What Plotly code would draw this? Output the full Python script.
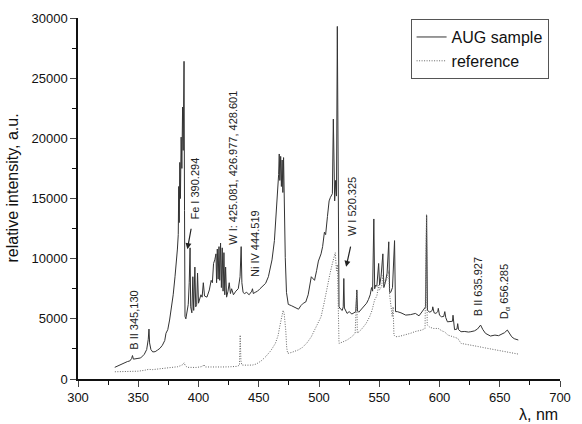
import plotly.graph_objects as go

# ---- data ----
sample_x = [330.5, 334, 338, 341, 343, 344.5, 345.2, 346, 349, 352, 355, 357, 358.3, 358.9, 359.4, 360.5, 362, 364, 366, 368,
            370, 372, 373, 374.5, 376, 377.5, 379, 380.5, 381.5, 382.5, 383.2, 383.6, 384, 384.5, 385, 385.6, 386.2, 386.8, 387.3, 388.0,
            388.4, 388.8, 389.5, 390.2, 390.8, 391.5, 392.3, 393, 393.5, 394.5, 395.3, 396, 397, 397.7, 398.5, 399.2, 400, 401, 402, 403,
            404, 405, 407, 409, 410.5, 411.5, 412.5, 413.5, 414.5, 415, 415.6, 416.3, 417, 417.6, 418.3, 419, 419.7, 420.4, 421.1, 421.8,
            422.5, 423.3, 424.5, 425.5, 426.5, 427.5, 429, 431, 433, 434.5, 435.4, 436, 437, 438, 440, 442, 444.2, 444.8, 445.5, 447,
            449, 451, 453, 455.7, 458, 461, 463, 464.5, 465.5, 466.5, 467, 467.5, 468.2, 468.8, 469.4, 470, 470.6, 471.2, 472, 473,
            474.5, 477, 479, 481, 483, 485, 487, 489, 491, 493.6, 495, 496.3, 498, 499.5, 501.7, 503, 504.5, 505.5, 507, 508.4,
            509.5, 511.1, 511.9, 512.4, 513, 513.8, 514.5, 515.2, 515.8, 516.6, 518, 519.3, 520.1, 520.6, 521.1, 523.3, 525, 527.3, 529, 530.5,
            531.4, 532, 533, 535, 537, 539.5, 541, 542.5, 543.6, 544.5, 545.5, 546.2, 547, 548, 549.5, 550.3, 551.5, 553, 553.8, 555,
            556.5, 557.9, 558.6, 559.5, 561, 562.7, 563.5, 565, 568, 572, 576, 580, 583, 586.8, 588.5, 589.3, 590, 592, 594, 594.4,
            595.5, 597, 598.6, 599, 600, 601.7, 603.5, 604.4, 605.2, 606.6, 609, 610.8, 611.2, 611.9, 612.5, 614.5, 615.1, 615.8, 617.9, 621,
            624, 626, 629, 631.5, 634.1, 636, 638.2, 642.3, 646, 649, 651.5, 654, 656.3, 658, 659.9, 662, 665.4]
sample_y = [970, 1150, 1300, 1450, 1500, 1700, 1950, 1650, 1700, 1750, 2050, 2450, 3300, 4150, 3000, 2450, 2250, 2270, 2400, 2550,
            2800, 3200, 3800, 4100, 4900, 5800, 7000, 8500, 9500, 10800, 12000, 16000, 13000, 18000, 15000, 20100, 17500, 22600, 19000, 26400,
            14000, 5200, 5000, 5600, 5700, 6200, 8000, 10900, 6000, 5500, 8500, 5700, 9300, 6000, 6200, 8800, 6300, 6600, 7000, 6800,
            8000, 6900, 6800, 7400, 8200, 8000, 9600, 9900, 10400, 8000, 10800, 8300, 11000, 8200, 11300, 7600, 10900, 7300, 10500, 7000,
            9300, 6800, 7300, 8000, 7100, 7500, 7000, 7300, 7500, 8500, 11000, 8000, 7200, 7100, 7200, 7000, 7300, 7500, 7100, 7200,
            7300, 7500, 7700, 7950, 8500, 9900, 11500, 13500, 15500, 17000, 18700, 16500, 18500, 16000, 18200, 15500, 18400, 14000, 10100, 7200,
            6200, 6100, 6000, 5900, 5800, 6100, 6300, 6400, 7000, 8500, 8300, 8200, 9000, 9800, 10400, 11000, 12200, 12000, 13500, 14800,
            15100, 15400, 21600, 15200, 14800, 16500, 15200, 29300, 20000, 6000, 5800, 5700, 6000, 8350, 5900, 5450, 5600, 5400, 5500, 5600,
            7400, 5650, 5550, 5800, 6000, 6300, 6600, 7000, 7600, 7300, 13300, 7500, 7800, 7700, 9600, 7800, 8500, 10400, 7600, 8000,
            8800, 11400, 7200, 7200, 7600, 11500, 5600, 5600, 5500, 5310, 5350, 5450, 5250, 5730, 6000, 13600, 5700, 5550, 5700, 6000,
            5500, 5450, 5600, 5870, 5300, 5170, 5200, 5600, 5100, 4750, 4750, 4800, 5300, 4800, 4100, 4150, 4600, 4100, 3930, 3950,
            3900, 3930, 4000, 4150, 4480, 4100, 3790, 3570, 3650, 3600, 3700, 3850, 4070, 3800, 3510, 3350, 3240]

ref_x = [330.6, 335, 340, 345, 350, 355, 358.4, 362, 366, 370, 374.6, 378, 382.7, 385, 387, 388.1, 389, 390.8, 394, 398,
         401, 403.5, 404.4, 405.5, 410, 415, 420, 425, 428.7, 432, 434, 434.6, 435.2, 436, 440, 444.9, 448, 452, 455.7, 460,
         463.8, 466, 467.5, 468.5, 469.2, 470.2, 471, 471.8, 472.4, 473.2, 474, 477, 480, 482.7, 486, 490, 493.6, 496.3, 499, 501.7,
         504, 507.1, 509, 511.1, 512.5, 513.5, 514.5, 515.3, 516, 516.6, 519, 523.3, 527, 530, 531.4, 531.8, 535, 539, 542, 544,
         546.1, 548, 549.5, 550.1, 552, 553, 554.2, 556, 557.9, 558.6, 560.8, 561.5, 562.2, 563.5, 567, 571.7, 576, 580, 585.4, 588,
         589.2, 589.8, 592, 595, 599, 602, 604.4, 607, 611, 615.1, 617.9, 622, 626, 632, 638, 646.3, 652, 658, 665.4]
ref_y = [600, 620, 600, 610, 650, 720, 800, 780, 830, 860, 890, 950, 1020, 1100, 1200, 1350, 1100, 970, 940, 960,
         1000, 1050, 1200, 1000, 1000, 980, 1000, 1010, 1020, 1050, 1150, 3650, 1500, 1160, 1150, 1160, 1250, 1500, 1850, 2350,
         2960, 3600, 4400, 4900, 5200, 5700, 5500, 4800, 4070, 2600, 2130, 2200, 2300, 2410, 2600, 3000, 3510, 4070, 4600, 5170,
         6200, 7940, 8700, 9600, 10200, 10500, 9000, 9500, 6000, 2960, 3050, 3240, 3500, 3790, 7300, 3800, 4100, 4600, 5170, 5700,
         6560, 6900, 7800, 7390, 7700, 8600, 7940, 8200, 9000, 7000, 5170, 6000, 3650, 3510, 3550, 3650, 3800, 3950, 4070, 4200,
         13700, 4500, 4300, 4200, 4200, 4000, 3900, 3650, 3500, 3380, 2960, 2900, 2820, 2700, 2580, 2410, 2300, 2200, 2070]

x_ticks = [300, 350, 400, 450, 500, 550, 600, 650, 700]
y_ticks = [0, 5000, 10000, 15000, 20000, 25000, 30000]
y_ticktext = ["0", "5000", "10000", "15000", "20000", "25000", "30000"]

labels = [  # text, x, y
    ("B II 345,130", 346.2, 4900),
    ("Fe I 390.294", 397.3, 15850),
    ("W I: 425.081, 426.977, 428.601", 429.0, 17590),
    ("Ni IV 444.519", 446.8, 11290),
    ("W I 520.325", 527.3, 14360),
    ("B II 635.927", 632.0, 7630),
    ("D<sub>α</sub> 656.285", 654.4, 7220),
]
arrows = [  # head x, head y, tail x, tail y
    (390.8, 10790, 394.1, 12610),
    (522.5, 9320, 526.5, 11120),
]

FONT = "Arial, Liberation Sans, sans-serif"

fig = go.Figure()
fig.add_trace(go.Scatter(x=sample_x, y=sample_y, mode="lines", name="AUG sample",
                         line=dict(color="#333333", width=1)))
fig.add_trace(go.Scatter(x=ref_x, y=ref_y, mode="lines", name="reference",
                         line=dict(color="#666666", width=1, dash="1px,1.5px")))

annos = []
for t, x, y in labels:
    annos.append(dict(text=t, x=x, y=y, xref="x", yref="y", showarrow=False, textangle=-90,
                      xanchor="center", yanchor="middle", font=dict(size=11, color="#222", family=FONT)))
for hx, hy, tx, ty in arrows:
    annos.append(dict(text="", x=hx, y=hy, ax=tx, ay=ty, xref="x", yref="y", axref="x", ayref="y",
                      showarrow=True, arrowhead=2, arrowsize=1, arrowwidth=1.2, arrowcolor="#222"))
annos.append(dict(text="λ, nm", x=1, y=0, xref="paper", yref="paper", xanchor="right", yanchor="top",
                  yshift=-25, showarrow=False, font=dict(size=16, color="#111", family=FONT)))
annos.append(dict(text="relative intensity, a.u.", x=0, y=(379 - 188) / 362, xref="paper", yref="paper",
                  xanchor="center", yanchor="middle", xshift=-65, textangle=-90, showarrow=False,
                  font=dict(size=16, color="#111", family=FONT)))

fig.update_layout(
    width=582, height=424,
    margin=dict(l=78, r=11, t=17, b=45),
    paper_bgcolor="white", plot_bgcolor="white",
    font=dict(family=FONT, size=13, color="#111"),
    showlegend=True,
    legend=dict(x=0.69, y=0.997, xanchor="left", yanchor="top", bordercolor="#555", borderwidth=1,
                bgcolor="white", font=dict(size=16, family=FONT, color="#111"), tracegroupgap=0),
    annotations=annos,
)
fig.update_xaxes(range=[300, 700], tickvals=x_ticks, ticks="outside", ticklen=6, tickwidth=1.2,
                 showline=True, linecolor="#111", linewidth=1.5, showgrid=False, zeroline=False,
                 minor=dict(ticks="outside", ticklen=4, dtick=25, tickcolor="#111", tickwidth=1.2),
                 tickfont=dict(size=13, family=FONT))
fig.update_yaxes(range=[0, 30000], tickvals=y_ticks, ticktext=y_ticktext, ticks="outside", ticklen=6, tickwidth=1.2,
                 showline=True, linecolor="#111", linewidth=1.5, showgrid=False, zeroline=False,
                 minor=dict(ticks="outside", ticklen=4, dtick=2500, tickcolor="#111", tickwidth=1.2),
                 tickfont=dict(size=13, family=FONT))

fig.write_html("out.html")
